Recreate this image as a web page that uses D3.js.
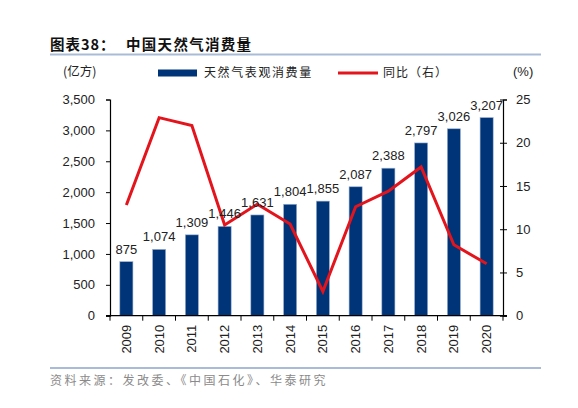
<!DOCTYPE html>
<html>
<head>
<meta charset="utf-8">
<script src="https://cdn.jsdelivr.net/npm/d3@7"></script>
<style>
  body { margin: 0; background: #fff; }
  svg { display: block; }
  .num { font-family: "Liberation Sans", Arial, sans-serif; font-size: 13px; fill: #222; }
  .cjk { font-family: "Noto Sans CJK SC", sans-serif; }
</style>
</head>
<body>
<div id="chart"></div>
<script>
// data
var years = ['2009','2010','2011','2012','2013','2014','2015','2016','2017','2018','2019','2020'];
var consumption = [875,1074,1309,1446,1631,1804,1855,2087,2388,2797,3026,3207];
var yoy = [12.8,22.9,22.0,10.5,12.9,10.6,2.8,12.6,14.4,17.2,8.2,6.0];
var leftTicks = [0,500,1000,1500,2000,2500,3000,3500];
var rightTicks = [0,5,10,15,20,25];

var W = 578, H = 408;
var plot = {left:110, right:503, top:99.5, bottom:315.7};
var navy = '#003478', red = '#e3141c', rule = '#a9bbd6';

var svg = d3.select('#chart').append('svg').attr('width',W).attr('height',H);

// title + rules
svg.append('text').attr('class','cjk')
  .attr('x',50).attr('y',50)
  .style('font-size','14.5px').style('font-weight','bold').style('letter-spacing','1px')
  .attr('fill','#111')
  .text('图表38：');
svg.append('text').attr('class','cjk')
  .attr('x',126).attr('y',50)
  .style('font-size','14.5px').style('font-weight','bold').style('letter-spacing','1.3px')
  .attr('fill','#111')
  .text('中国天然气消费量');
svg.append('rect').attr('x',50).attr('y',53.5).attr('width',491).attr('height',2).attr('fill',rule);
svg.append('rect').attr('x',50).attr('y',367).attr('width',491).attr('height',2).attr('fill',rule);
svg.append('text').attr('class','cjk')
  .attr('x',50).attr('y',385)
  .style('font-size','12px').style('letter-spacing','2.5px')
  .attr('fill','#8a8a8a')
  .text('资料来源：发改委、《中国石化》、华泰研究');

// scales
var x = d3.scaleBand().domain(years).range([plot.left,plot.right]).paddingInner(0.6).paddingOuter(0.3);
var xTickScale = d3.scaleLinear().domain([0,years.length]).range([plot.left,plot.right]);
var yL = d3.scaleLinear().domain([0,3500]).range([plot.bottom,plot.top]);
var yR = d3.scaleLinear().domain([0,25]).range([plot.bottom,plot.top]);

// bars
svg.append('g').selectAll('rect').data(years).join('rect')
  .attr('x',function(d){return x(d);})
  .attr('width',x.bandwidth())
  .attr('y',function(d,i){return yL(consumption[i]);})
  .attr('height',function(d,i){return plot.bottom - yL(consumption[i]);})
  .attr('fill',navy)
  .attr('stroke','#9fb3d1').attr('stroke-width',0.6);

// yoy line
var line = d3.line()
  .x(function(d,i){return x(years[i]) + x.bandwidth()/2;})
  .y(function(d){return yR(d);});
svg.append('path').datum(yoy)
  .attr('d',line)
  .attr('fill','none').attr('stroke',red).attr('stroke-width',3)
  .attr('stroke-linejoin','miter');

// bar labels
svg.append('g').selectAll('text').data(years).join('text')
  .attr('class','num')
  .attr('x',function(d){return x(d) + x.bandwidth()/2;})
  .attr('y',function(d,i){return yL(consumption[i]) - 8;})
  .attr('text-anchor','middle')
  .text(function(d,i){return d3.format(',')(consumption[i]);});

// left axis
var axL = d3.axisLeft(yL).tickValues(leftTicks).tickFormat(d3.format(',')).tickSize(4).tickPadding(11);
var gL = svg.append('g').attr('transform','translate('+plot.left+',0)').call(axL);
// right axis
var axR = d3.axisRight(yR).tickValues(rightTicks).tickSize(4).tickPadding(9);
var gR = svg.append('g').attr('transform','translate('+plot.right+',0)').call(axR);
[gL,gR].forEach(function(g){
  g.select('.domain').attr('stroke','#000').attr('stroke-width',1.2);
  g.selectAll('.tick line').attr('stroke','#000');
  g.selectAll('.tick text').attr('class','num').attr('fill','#222');
});
gR.selectAll('.tick line').attr('x1',-3);

// x axis
var gX = svg.append('g');
gX.append('line').attr('x1',plot.left-4).attr('x2',plot.right+4)
  .attr('y1',plot.bottom).attr('y2',plot.bottom).attr('stroke','#000').attr('stroke-width',1.2);
gX.selectAll('line.tk').data(d3.range(years.length+1)).join('line').attr('class','tk')
  .attr('x1',function(d){return xTickScale(d);}).attr('x2',function(d){return xTickScale(d);})
  .attr('y1',plot.bottom).attr('y2',plot.bottom+5).attr('stroke','#000');
gX.selectAll('text').data(years).join('text')
  .attr('class','num')
  .attr('transform',function(d){return 'translate('+(x(d)+x.bandwidth()/2)+','+(plot.bottom+9)+') rotate(-90)';})
  .attr('text-anchor','end').attr('dy','0.35em')
  .text(function(d){return d;});

// unit labels
svg.append('text').attr('class','cjk').attr('x',63).attr('y',76)
  .style('font-size','12.5px').attr('fill','#222').text('(亿方)');
svg.append('text').attr('class','num').attr('x',513).attr('y',76).text('(%)');

// legend
svg.append('rect').attr('x',158).attr('y',69.5).attr('width',39).attr('height',7).attr('fill',navy);
svg.append('text').attr('class','cjk').attr('x',204).attr('y',77)
  .style('font-size','12px').style('letter-spacing','1.6px').attr('fill','#222').text('天然气表观消费量');
svg.append('line').attr('x1',338).attr('x2',378).attr('y1',73).attr('y2',73)
  .attr('stroke',red).attr('stroke-width',3);
svg.append('text').attr('class','cjk').attr('x',383).attr('y',77)
  .style('font-size','12px').style('letter-spacing','1px').attr('fill','#222').text('同比（右）');
</script>
</body>
</html>
